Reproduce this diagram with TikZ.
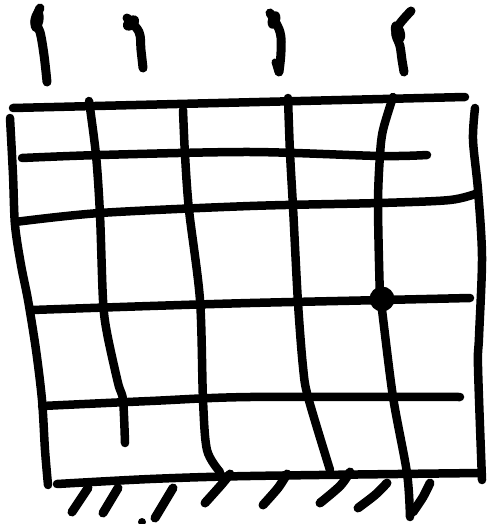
\documentclass[tikz,border=0pt]{standalone}
\begin{document}
\begin{tikzpicture}[x=1pt,y=-1pt,
  pen/.style={line width=8.5pt,line cap=round,line join=round,black},
  tick pen/.style={line width=9pt,line cap=round,line join=round,black},
  thin pen/.style={line width=7pt,line cap=round,line join=round,black},
  hatch/.style={line width=9pt,line cap=round,line join=round,black}]
\useasboundingbox (0,0) rectangle (487,524);
% ticks on top
\draw[tick pen] plot[smooth,tension=0.6] coordinates {(40,8) (35,22) (40,32) (44,55) (47,82)};
\fill[rotate around={-10:(37,20)}] (37,20) ellipse (6.5 and 12);
\draw[tick pen] plot[smooth,tension=0.6] coordinates {(127,18) (139,32) (141,50) (143,68)};
\fill[rotate around={40:(131,23)}] (131,23) ellipse (9 and 6.5);
\draw[tick pen] plot[smooth,tension=0.6] coordinates {(270,13) (280,32) (281,52) (279,72)};
\fill[rotate around={-20:(274,20)}] (274,20) ellipse (6 and 9);
\draw[thin pen] (275,62) -- (278,72);
\draw[tick pen] plot[smooth,tension=0.6] coordinates {(411,11) (396,30) (400,46) (402,60) (404,72)};
\fill[rotate around={20:(398,32)}] (398,32) ellipse (6.5 and 11);
% horizontal lines
\draw[pen] (13,108) -- (465,97);
\draw[pen] plot[smooth,tension=0.5] coordinates {(22,158) (100,155) (250,152) (380,156) (427,155)};
\draw[pen] plot[smooth,tension=0.5] coordinates {(15,222) (100,213) (250,206) (380,203) (450,200) (478,193)};
\draw[pen] plot[smooth,tension=0.5] coordinates {(32,310) (150,306) (250,303) (383,300) (470,298)};
\draw[pen] plot[smooth,tension=0.5] coordinates {(42,406) (150,401) (250,397) (460,397)};
\draw[pen] plot[smooth,tension=0.5] coordinates {(57,484) (150,479) (250,476) (480,473)};
% vertical lines
\draw[pen] plot[smooth,tension=0.5] coordinates {(10,118) (13,175) (15,225) (21,265) (28,300) (36,350) (42,400) (45,450) (48,485)};
\draw[pen] plot[smooth,tension=0.5] coordinates {(89,101) (96,155) (100,215) (103,300) (107,333) (118,383) (123,400) (125,443)};
\draw[pen] plot[smooth,tension=0.5] coordinates {(183,110) (185,155) (189,210) (200,300) (203,400) (207,450) (220,472)};
\draw[pen] plot[smooth,tension=0.5] coordinates {(288,98) (290,153) (293,207) (298,303) (303,367) (308,397) (330,470)};
\draw[pen] plot[smooth,tension=0.5] coordinates {(393,97) (383,130) (380,155) (378,205) (380,297) (382,310) (393,397) (407,473) (410,517)};
\draw[pen] plot[smooth,tension=0.5] coordinates {(475,108) (473,140) (478,190) (482,257) (479,337) (478,367) (482,480)};
% dot
\fill (382,299) circle (12.5);
% hatching under the floor
\draw[hatch] (88,488) -- (72,512);
\draw[hatch] (118,488) -- (103,513);
\draw[hatch] (173,488) -- (155,518);
\fill (142,522) circle (4);
\draw[hatch] plot[smooth,tension=0.5] coordinates {(230,474) (222,484) (205,503)};
\draw[hatch] plot[smooth,tension=0.5] coordinates {(287,474) (278,488) (263,505)};
\draw[hatch] plot[smooth,tension=0.5] coordinates {(350,472) (340,486) (320,503)};
\draw[hatch] plot[smooth,tension=0.5] coordinates {(387,483) (375,495) (358,508)};
\draw[hatch] plot[smooth,tension=0.5] coordinates {(430,483) (423,497) (413,512)};
\end{tikzpicture}
\end{document}
